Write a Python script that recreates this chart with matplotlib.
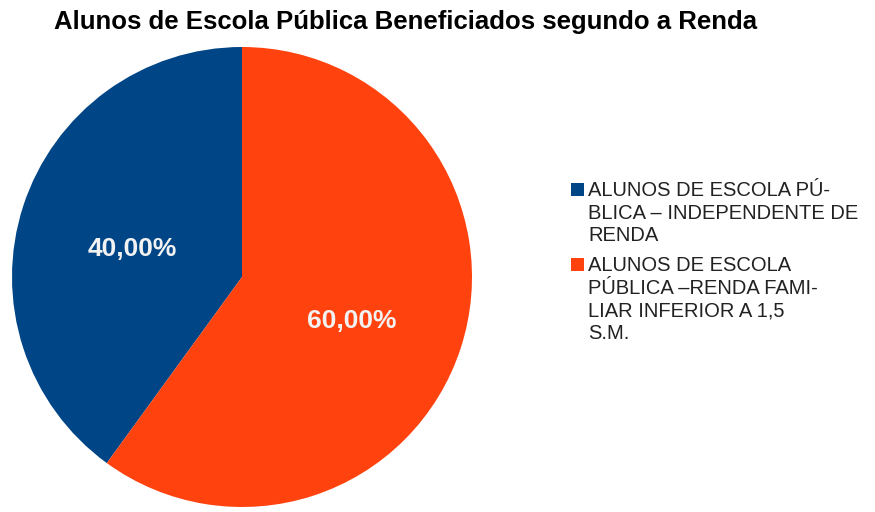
import matplotlib
matplotlib.use("Agg")
from matplotlib import pyplot as plt
from matplotlib.patches import Rectangle
from matplotlib.transforms import offset_copy

plt.rcParams['font.family'] = ['Liberation Sans', 'DejaVu Sans']

title = "Alunos de Escola Pública Beneficiados segundo a Renda"
shares = [40.0, 60.0]
labels = ["ALUNOS DE ESCOLA PÚ-\nBLICA – INDEPENDENTE DE\nRENDA",
          "ALUNOS DE ESCOLA\nPÚBLICA –RENDA FAMI-\nLIAR INFERIOR A 1,5\nS.M."]
colors = ["#004586", "#ff420e"]

W, H = 875, 512
fig = plt.figure(figsize=(W / 100, H / 100), dpi=100)
fig.patch.set_facecolor("white")

# pie box in pixels: left 12, top 47, diameter 460
ax = fig.add_axes([12 / W, (H - 47 - 460) / H, 460 / W, 460 / H])
wedges, texts, autotexts = ax.pie(
    shares, colors=colors, startangle=90, counterclock=True,
    autopct=lambda p: ("%.2f%%" % p).replace(".", ","),
    pctdistance=0.5, radius=1.0,
    textprops=dict(color="#f2f2f2", fontsize=19, fontweight="bold"))
# percentage labels sit a little below the wedge mid-point
for t in autotexts:
    t.set_transform(offset_copy(ax.transData, fig=fig, y=-8, units="dots"))
ax.set_xlim(-1, 1)
ax.set_ylim(-1, 1)
ax.set_aspect("equal")
ax.axis("off")

fig.text(406 / W, 1 - 29 / H, title, ha="center", va="baseline",
         fontsize=18.5, fontweight="bold", color="black")

# legend drawn by hand: marker next to the first line, one text per line
line_step = 22.7
first_baseline = [196, 271]
for lab, wedge, yb in zip(labels, wedges, first_baseline):
    fig.patches.append(Rectangle((571 / W, 1 - yb / H), 13 / W, 13 / H,
                                 transform=fig.transFigure,
                                 facecolor=wedge.get_facecolor(),
                                 edgecolor="none"))
    for i, line in enumerate(lab.split("\n")):
        fig.text(588 / W, 1 - (yb + i * line_step) / H, line,
                 ha="left", va="baseline", fontsize=14.5, color="#222222")

fig.savefig("out.png", dpi=100)
